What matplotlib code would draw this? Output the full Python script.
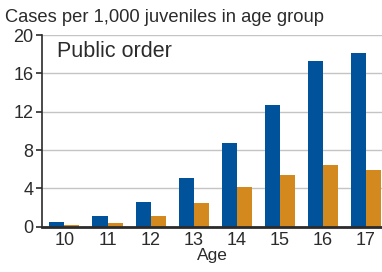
import numpy as np
import matplotlib
matplotlib.use("Agg")
import matplotlib.pyplot as plt

# -------------------------------------------------
# Data
# -------------------------------------------------
ages = ["10", "11", "12", "13", "14", "15", "16", "17"]
blue_values = [0.5, 1.1, 2.6, 5.1, 8.75, 12.7, 17.3, 18.1]
orange_values = [0.17, 0.4, 1.1, 2.5, 4.15, 5.4, 6.45, 5.9]
y_ticks = [0, 4, 8, 12, 16, 20]

blue = "#00529b"
orange = "#d4891e"
text_color = "#2b2b2b"

plt.rcParams["font.family"] = ["Liberation Sans", "DejaVu Sans"]

fig = plt.figure(figsize=(3.82, 2.72), dpi=100)
ax = fig.add_axes([42 / 382, 1 - 226.7 / 272, 340 / 382, 191.7 / 272])

x = np.arange(len(ages))
width = 0.35
ax.bar(x - width / 2, blue_values, width, color=blue, zorder=3)
ax.bar(x + width / 2, orange_values, width, color=orange, zorder=3)

ax.set_xlim(-0.52, 7.37)
ax.set_ylim(0, 20)
ax.set_yticks(y_ticks)
ax.set_xticks(x)
ax.set_xticklabels(ages)

ax.yaxis.grid(True, color="#c4c4c4", linewidth=1.0, zorder=0)
ax.set_axisbelow(True)

for side in ["top", "right"]:
    ax.spines[side].set_visible(False)
ax.spines["left"].set_color(text_color)
ax.spines["left"].set_linewidth(1.2)
ax.spines["bottom"].set_color(text_color)
ax.spines["bottom"].set_linewidth(2.0)
ax.spines["bottom"].set_zorder(4)

ax.tick_params(axis="y", direction="out", length=4, width=1.2,
               color=text_color, labelsize=13, labelcolor=text_color, pad=2)
ax.tick_params(axis="x", length=0, labelsize=13, labelcolor=text_color, pad=4)

ax.set_xlabel("Age", fontsize=12.5, color=text_color, labelpad=-1)

fig.text(5 / 382, 1 - 17 / 272, "Cases per 1,000 juveniles in age group",
         fontsize=13.2, color=text_color, va="center", ha="left")
ax.text(0.045, 0.915, "Public order", transform=ax.transAxes,
        fontsize=15.5, color=text_color, va="center", ha="left")

fig.savefig("out.png", dpi=100)
